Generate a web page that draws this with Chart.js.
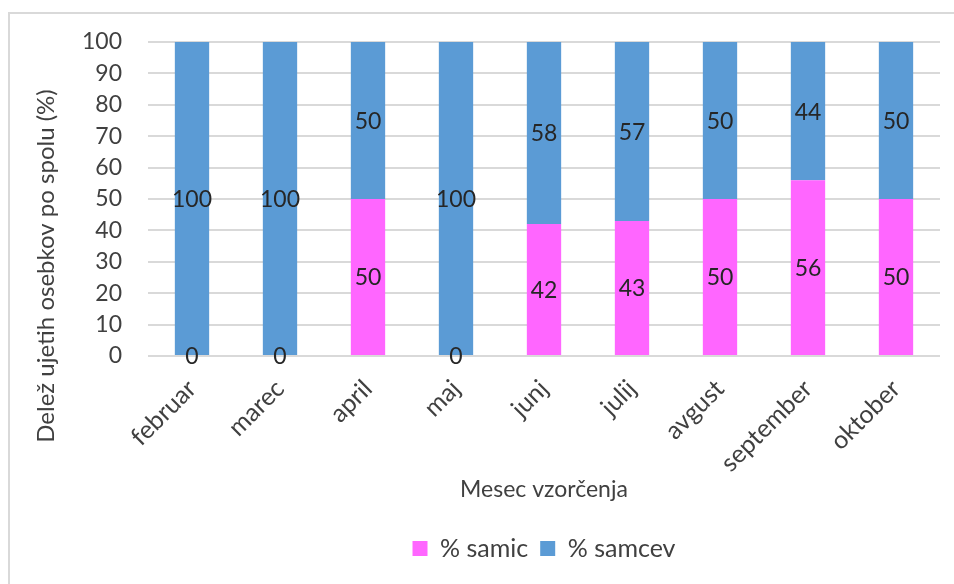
<!DOCTYPE html>
<html>
<head>
<meta charset="utf-8">
<script src="https://cdn.jsdelivr.net/npm/chart.js@4/dist/chart.umd.min.js"></script>
<style>
    html, body {
        margin: 0;
        padding: 0;
        background: #ffffff;
        overflow: hidden;
    }
    #frame {
        position: absolute;
        left: 8px;
        top: 12px;
        right: 0;
        bottom: 0;
        border-top: 2px solid #d9d9d9;
        border-left: 2px solid #d9d9d9;
    }
    #wrap {
        position: absolute;
        left: 0;
        top: 0;
        width: 954px;
        height: 584px;
    }
</style>
</head>
<body>
<div id="frame"></div>
<div id="wrap">
    <canvas id="sexChart"></canvas>
</div>
<script>

/* =========================
DATA
========================= */

const months = [
    "februar", "marec", "april", "maj", "junj",
    "julij", "avgust", "september", "oktober"
];

const femalePercent = [0, 0, 50, 0, 42, 43, 50, 56, 50];

const malePercent = [100, 100, 50, 100, 58, 57, 50, 44, 50];

const yTicks = [0, 10, 20, 30, 40, 50, 60, 70, 80, 90, 100];

const yTitle = "Delež ujetih osebkov po spolu (%)";

/* =========================
STYLE
========================= */

const FONT = "Lato, 'Open Sans', sans-serif";
const TEXT = "#404040";

/* =========================
VALUE LABELS + Y TITLE
========================= */

const valueLabels = {

    id: "valueLabels",

    afterDatasetsDraw(chart) {

        const ctx = chart.ctx;

        ctx.save();

        ctx.font = "23px " + FONT;
        ctx.fillStyle = "#262626";
        ctx.textAlign = "center";
        ctx.textBaseline = "middle";

        chart.data.datasets.forEach((ds, i) => {

            chart.getDatasetMeta(i).data.forEach((bar, j) => {

                const mid = (bar.y + bar.base) / 2;

                ctx.fillText(String(ds.data[j]), bar.x, mid + 1);

            });

        });

        ctx.restore();

    }

};

// Excel puts the y title lower than the plot centre
const sideTitle = {

    id: "sideTitle",

    afterDraw(chart) {

        const ctx = chart.ctx;

        ctx.save();

        ctx.translate(46, 266);
        ctx.rotate(-Math.PI / 2);

        ctx.font = "24px " + FONT;
        ctx.fillStyle = TEXT;
        ctx.textAlign = "center";
        ctx.textBaseline = "middle";

        ctx.fillText(yTitle, 0, 0);

        ctx.restore();

    }

};

/* =========================
CHART
========================= */

new Chart(document.getElementById("sexChart"), {

    type: "bar",

    data: {

        labels: months,

        datasets: [

            {
                label: "% samic",
                data: femalePercent,
                backgroundColor: "#ff66ff"
            },

            {
                label: "% samcev",
                data: malePercent,
                backgroundColor: "#5b9bd5"
            }

        ]

    },

    options: {

        responsive: true,
        maintainAspectRatio: false,
        animation: false,

        categoryPercentage: 1,
        barPercentage: 0.39,

        layout: {
            padding: { left: 34, right: 14, top: 42, bottom: 13 }
        },

        plugins: {

            legend: {
                position: "bottom",
                fullSize: false,
                labels: {
                    color: TEXT,
                    font: { family: FONT, size: 25 },
                    boxWidth: 15,
                    boxHeight: 15,
                    padding: 12
                }
            },

            tooltip: { enabled: false }

        },

        scales: {

            x: {
                stacked: true,
                grid: { display: false },
                border: { display: false },
                ticks: {
                    color: TEXT,
                    font: { family: FONT, size: 25 },
                    minRotation: 45,
                    maxRotation: 45,
                    padding: 10
                },
                title: {
                    display: true,
                    text: "Mesec vzorčenja",
                    color: TEXT,
                    font: { family: FONT, size: 23 },
                    padding: { top: 4, bottom: 21 }
                },
                afterFit(axis) {
                    axis.height = 168;
                }
            },

            y: {
                stacked: true,
                min: 0,
                max: 100,
                afterBuildTicks(axis) {
                    axis.ticks = yTicks.map(v => ({ value: v }));
                },
                grid: {
                    color: "#d9d9d9",
                    lineWidth: 2,
                    drawTicks: false
                },
                border: { display: false },
                ticks: {
                    color: TEXT,
                    font: { family: FONT, size: 23 },
                    padding: 26
                },
                afterFit(axis) {
                    axis.width = 114;
                }
            }

        }

    },

    plugins: [valueLabels, sideTitle]

});

</script>
</body>
</html>
